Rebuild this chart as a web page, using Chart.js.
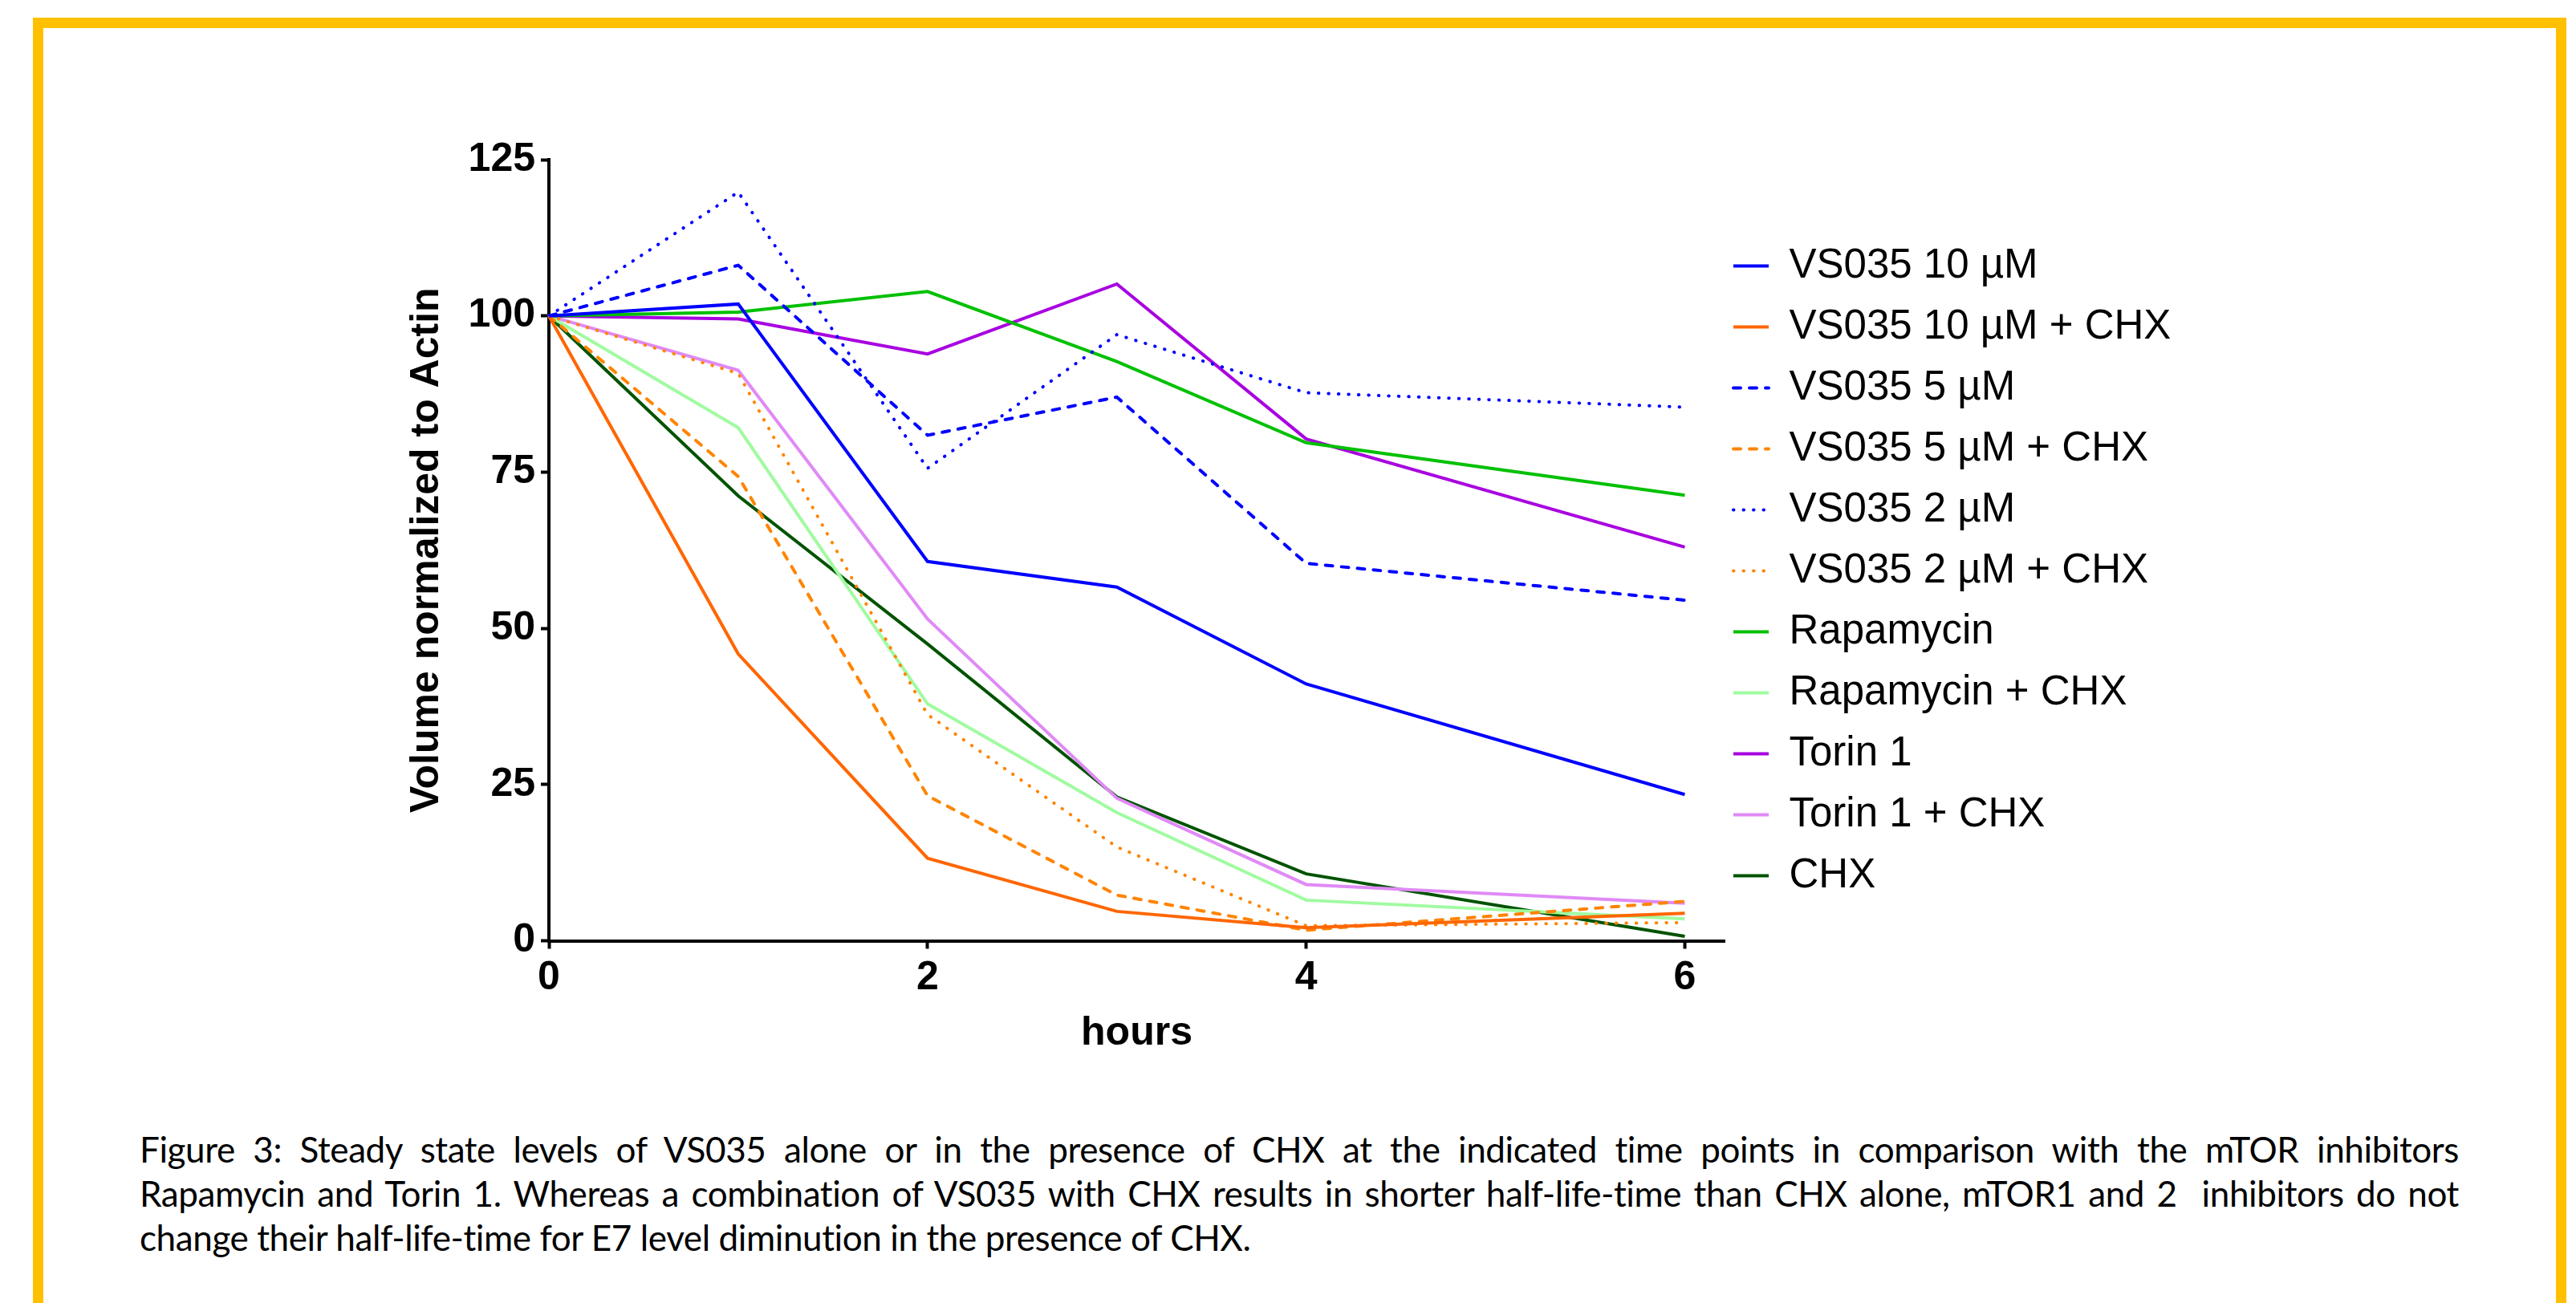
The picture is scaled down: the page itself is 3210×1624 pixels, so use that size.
<!DOCTYPE html>
<html>
<head>
<meta charset="utf-8">
<script src="https://cdn.jsdelivr.net/npm/chart.js@4.4.1/dist/chart.umd.min.js"></script>
<style>
  html, body { margin: 0; padding: 0; background: #fff; overflow: hidden; }
  #page { position: relative; width: 3210px; height: 1624px; overflow: hidden; }
  #frame { position: absolute; left: 41px; top: 22px; width: 3157px; height: 1700px;
           border: 13px solid #FFC000; border-bottom: none; box-sizing: border-box; }
  #chartBox { position: absolute; left: 0; top: 0; width: 3210px; height: 1380px; }
  #caption { position: absolute; left: 174px; top: 1405px; width: 2890px;
             font-family: Lato, 'Liberation Sans', sans-serif; font-size: 44px;
             letter-spacing: -0.4px; line-height: 55px; color: #000; }
  .jl { text-align: justify; text-align-last: justify; }
</style>
</head>
<body>
<div id="page">
  <div id="frame"></div>
  <div id="chartBox"><canvas id="lineChart"></canvas></div>
  <div id="caption">
    <div class="jl">Figure 3: Steady state levels of VS035 alone or in the presence of CHX at the indicated time points in comparison with the mTOR inhibitors</div>
    <div class="jl">Rapamycin and Torin 1. Whereas a combination of VS035 with CHX results in shorter half-life-time than CHX alone, mTOR1 and 2&nbsp; inhibitors do not</div>
    <div>change their half-life-time for E7 level diminution in the presence of CHX.</div>
  </div>
</div>
<script>
// time points (hours)
const hours = [0, 1, 2, 3, 4, 6];

const seriesNames = [
  'VS035 10 µM', 'VS035 10 µM + CHX', 'VS035 5 µM', 'VS035 5 µM + CHX',
  'VS035 2 µM', 'VS035 2 µM + CHX', 'Rapamycin', 'Rapamycin + CHX',
  'Torin 1', 'Torin 1 + CHX', 'CHX'
];

// values (volume normalized to actin)
const vs10      = [100, 101.9, 60.7, 56.6, 41.1, 23.4];
const vs10Chx   = [100, 45.9, 13.2, 4.7, 2.1, 4.4];
const vs5       = [100, 108.1, 80.9, 87.0, 60.4, 54.5];
const vs5Chx    = [100, 74.3, 23.2, 7.3, 1.7, 6.3];
const vs2       = [100, 119.8, 75.6, 97.0, 87.7, 85.4];
const vs2Chx    = [100, 90.8, 36.2, 15.0, 2.4, 2.9];
const rapa      = [100, 100.6, 103.9, 92.7, 79.7, 71.3];
const rapaChx   = [100, 82.1, 37.9, 20.5, 6.5, 3.5];
const torin     = [100, 99.5, 93.9, 105.1, 80.3, 63.0];
const torinChx  = [100, 91.3, 51.5, 22.8, 9.0, 6.0];
const chx       = [100, 71.2, 47.5, 23.0, 10.7, 0.7];

const seriesValues = [vs10, vs10Chx, vs5, vs5Chx, vs2, vs2Chx, rapa, rapaChx, torin, torinChx, chx];

const DASH = [9, 11];
const DOT = [0.5, 12];
const seriesStyles = [
  { color: '#0000FF', dash: [],   cap: 'butt' },
  { color: '#FF6600', dash: [],   cap: 'butt' },
  { color: '#0000FF', dash: DASH, cap: 'round' },
  { color: '#FF8400', dash: DASH, cap: 'round' },
  { color: '#0000FF', dash: DOT,  cap: 'round' },
  { color: '#FF8400', dash: DOT,  cap: 'round' },
  { color: '#00C000', dash: [],   cap: 'butt' },
  { color: '#A0FBA0', dash: [],   cap: 'butt' },
  { color: '#A800E0', dash: [],   cap: 'butt' },
  { color: '#E08AF6', dash: [],   cap: 'butt' },
  { color: '#005300', dash: [],   cap: 'butt' }
];

const yTicks = [0, 25, 50, 75, 100, 125];
const xTicks = [0, 2, 4, 6];

Chart.defaults.font.family = "'Liberation Sans', Arial, sans-serif";
Chart.defaults.color = '#000';

// move the legend next to the plot, where the figure has it
const legendSpot = {
  id: 'legendSpot',
  afterLayout(chart) {
    const lg = chart.legend;
    const area = chart.chartArea;
    lg.left = area.right - 14;
    lg.right = lg.left + 1000;
    lg.top = area.top + 82;
    lg.bottom = lg.top + 1000;
  }
};

const datasets = seriesNames.map((name, i) => ({
  label: name,
  data: hours.map((h, j) => ({ x: h, y: seriesValues[i][j] })),
  borderColor: seriesStyles[i].color,
  backgroundColor: seriesStyles[i].color,
  borderWidth: 4,
  borderDash: seriesStyles[i].dash,
  borderCapStyle: seriesStyles[i].cap,
  pointRadius: 0,
  pointHoverRadius: 0,
  fill: false,
  tension: 0,
  clip: false
}));

const axisFont = { size: 50, weight: 'bold' };

new Chart(document.getElementById('lineChart'), {
  type: 'line',
  data: { datasets: datasets },
  options: {
    responsive: true,
    maintainAspectRatio: false,
    animation: false,
    layout: { padding: { left: 498, top: 199, right: 661, bottom: 57.5 } },
    plugins: {
      tooltip: { enabled: false },
      legend: {
        position: 'right',
        align: 'start',
        maxWidth: 400,
        labels: {
          usePointStyle: true,
          pointStyle: 'line',
          pointStyleWidth: 44,
          padding: 25,
          color: '#000',
          font: { size: 51 },
          generateLabels: chart => {
            const base = Chart.defaults.plugins.legend.labels.generateLabels(chart);
            return base.map(item => {
              const ds = chart.data.datasets[item.datasetIndex];
              return Object.assign(item, {
                lineDash: ds.borderDash,
                lineCap: ds.borderCapStyle,
                lineWidth: 4,
                strokeStyle: ds.borderColor,
                fillStyle: ds.borderColor
              });
            });
          }
        }
      }
    },
    scales: {
      x: {
        type: 'linear',
        min: 0,
        max: 6.21,
        afterFit: s => { s.height = 150; },
        afterBuildTicks: s => { s.ticks = xTicks.map(v => ({ value: v })); },
        ticks: { stepSize: 2, includeBounds: false, padding: 7, color: '#000', font: axisFont, maxRotation: 0, autoSkip: false },
        grid: { drawOnChartArea: false, drawTicks: true, tickLength: 10, tickWidth: 4, tickColor: '#000' },
        border: { display: true, color: '#000', width: 4 },
        title: { display: true, text: 'hours', color: '#000', font: axisFont, padding: { top: 4, bottom: 4 } }
      },
      y: {
        min: 0,
        max: 125,
        afterFit: s => { s.width = 186; },
        afterBuildTicks: s => { s.ticks = yTicks.map(v => ({ value: v })); },
        ticks: { stepSize: 25, padding: 7, color: '#000', font: axisFont },
        grid: { drawOnChartArea: false, drawTicks: true, tickLength: 10, tickWidth: 4, tickColor: '#000' },
        border: { display: true, color: '#000', width: 4 },
        title: { display: true, text: 'Volume normalized to Actin', color: '#000', font: axisFont, padding: { top: 4, bottom: 4 } }
      }
    }
  },
  plugins: [legendSpot]
});
</script>
</body>
</html>
